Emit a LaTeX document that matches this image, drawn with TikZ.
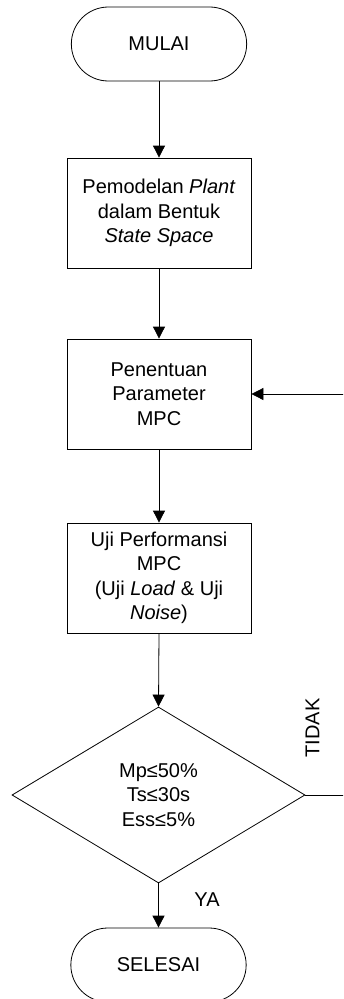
\documentclass[tikz,border=0pt]{standalone}
\usepackage{fontspec}
\setmainfont{Liberation Sans}
\usetikzlibrary{arrows.meta,positioning,shapes.geometric,shapes.misc}

\begin{document}
\begin{tikzpicture}[
  x=1pt,
  y=-1pt,
  font=\fontsize{20}{24.5}\selectfont,
  >={Triangle[length=12pt,width=12pt]},
  term/.style={draw, rounded rectangle, minimum width=182pt, minimum height=74pt, line width=0.8pt},
  proc/.style={draw, minimum width=184pt, minimum height=110pt, align=center, line width=0.8pt},
  dec/.style={draw, diamond, minimum width=293pt, minimum height=176pt, inner sep=0pt, align=center, line width=0.8pt},
  flow/.style={->, line width=0.8pt},
  lab/.style={inner sep=1pt}
]
  \useasboundingbox (0,0) rectangle (343,999);
  \clip (0,0) rectangle (343,999);

  \node[term] (start) at (159, 44) {MULAI};
  \node[proc] (p1) at (159, 213) {Pemodelan \textit{Plant}\\dalam Bentuk\\\textit{State Space}};
  \node[proc] (p2) at (159, 394) {Penentuan\\Parameter\\MPC};
  \node[proc] (p3) at (159, 578) {Uji Performansi\\MPC\\(Uji \textit{Load} \& Uji\\\textit{Noise})};
  \node[dec] (cek) at (158.5, 795) {Mp≤50\%\\Ts≤30s\\Ess≤5\%};
  \node[term] (stop) at (158.5, 965) {SELESAI};
  \coordinate (balik) at (352, 795);

  \node[lab, rotate=90] (tidak) at (312.5, 728) {TIDAK};
  \node[lab] (ya) at (207, 900) {YA};

  \draw[flow] (start.south) -- (p1.north);
  \draw[flow] (p1.south) -- (p2.north);
  \draw[flow] (p2.south) -- (p3.north);
  \draw[flow] (p3.south) -- (cek.north);
  \draw[flow] (cek.south) -- (stop.north);
  \draw[flow] (cek.east) -- (balik) |- (p2.east);
\end{tikzpicture}
\end{document}
